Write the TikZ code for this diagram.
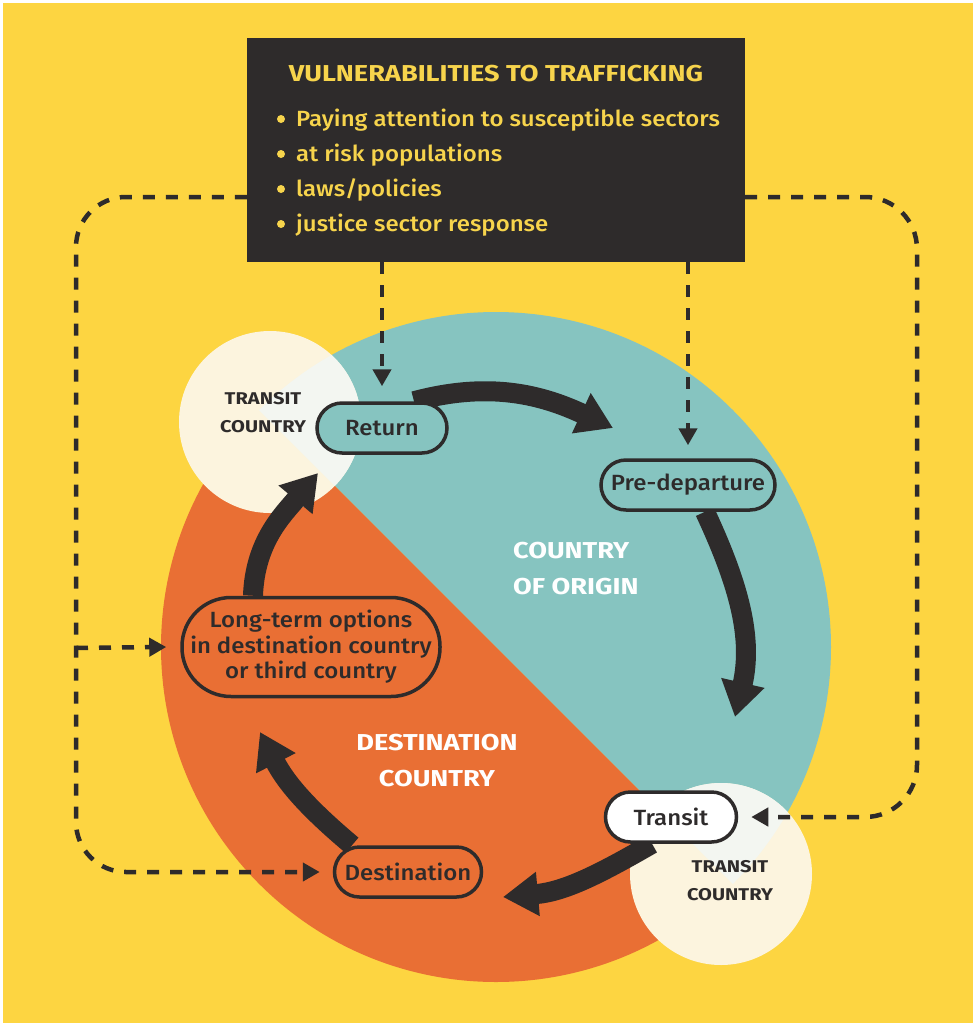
\documentclass[tikz,border=0pt]{standalone}
\usepackage{fontspec}
\setmainfont{Fira Sans}[BoldFeatures={FakeStretch=1.18}]
\newfontfamily\medfont{Fira Sans Medium}[FakeStretch=1.09]
\usepackage{tikz}
\usetikzlibrary{arrows.meta,shapes.misc,positioning}

\definecolor{sun}{HTML}{FDD541}
\definecolor{sea}{HTML}{86C4C0}
\definecolor{rust}{HTML}{E96F34}
\definecolor{ink}{HTML}{2E2B2B}
\definecolor{straw}{HTML}{F7D44C}
\definecolor{cream}{HTML}{FCF4DE}
\definecolor{frost}{HTML}{F3F6F1}

\pgfdeclarelayer{back}
\pgfdeclarelayer{links}
\pgfsetlayers{back,links,main}

\begin{document}
\begin{tikzpicture}
[x=1pt,y=1pt,every node/.style={inner sep=0pt},
 stage/.style={rounded rectangle,draw=ink,line width=3.5pt,minimum height=50pt,text=ink,font=\medfont\fontsize{22}{25.5}\selectfont},
 flow/.style={ink,line width=20pt,-{Triangle[length=35pt,width=42pt]}},
 hint/.style={ink,line width=4.5pt,dash pattern=on 12pt off 11pt,-{Triangle[length=17pt,width=18pt]}},
 region/.style={text=white,font=\bfseries\fontsize{23}{36}\selectfont},
 via/.style={text=ink,font=\bfseries\fontsize{17}{28}\selectfont,align=center},
 seahalf/.style={insert path={(496,-647) ++(-45:335) arc[start angle=-45,end angle=135,radius=335] -- cycle}}]
\useasboundingbox (0,0) rectangle (976,-1026);
\begin{pgfonlayer}{back}
\fill[white] (0,0) rectangle (976,-1026);
\fill[sun] (3,-3) rectangle (973,-1023);
\fill[sea,seahalf];
\fill[rust] (496,-647) ++(135:335) arc[start angle=135,end angle=315,radius=335] -- cycle;
\fill[cream] (270,-422) circle (91);
\fill[cream] (721,-874) circle (91);
\begin{scope}
\clip[seahalf];
\fill[frost] (270,-422) circle (91);
\fill[frost] (721,-874) circle (91);
\end{scope}
\end{pgfonlayer}

\node[fill=ink,minimum width=498pt,minimum height=224pt] (vul) at (496,-150) {};
\node[text=straw,font=\bfseries\fontsize{23}{26}\selectfont,anchor=base] (head) at (496,-81) {VULNERABILITIES TO TRAFFICKING};
\foreach \txt [count=\i] in {Paying attention to susceptible sectors,at risk populations,laws/policies,justice sector response}{
  \node[text=straw,font=\medfont\fontsize{22}{26}\selectfont,anchor=base west] (item\i) at (296,{-91-35*\i}) {\txt};
  \fill[straw] (281,{-84-35*\i}) circle (4);
}

\node[region,align=left,anchor=west] (origin) at (513,-569) {COUNTRY\\OF ORIGIN};
\node[region,align=center] (dest) at (437,-761) {DESTINATION\\COUNTRY};
\node[via] (via1) at (263,-413) {TRANSIT\\COUNTRY};
\node[via] (via2) at (730,-881) {TRANSIT\\COUNTRY};

\node[stage,fill=sea,minimum width=130pt] (ret) at (382,-428) {Return};
\node[stage,fill=sea,minimum width=174pt] (pre) at (688,-485) {Pre-departure};
\node[stage,fill=white,minimum width=131pt] (tra) at (671,-817) {Transit};
\node[stage,fill=rust,minimum width=147pt] (dst) at (408,-872) {Destination};
\node[stage,shape=rectangle,rounded corners=49pt,fill=rust,minimum width=258pt,minimum height=99pt,align=center] (lto) at (311,-647) {Long-term options\\in destination country\\or third country};

\coordinate (t1) at (613,-428);
\coordinate (t2) at (735,-717);
\coordinate (t3) at (503,-897);
\coordinate (t4) at (260,-732);
\coordinate (t5) at (318,-473);

\begin{pgfonlayer}{links}
\draw[flow] ([xshift=32pt]ret.north) to[out=15,in=155] (t1);
\draw[flow] ([xshift=17pt]pre.south) to[out=-65,in=77] (t2);
\draw[flow] ([xshift=-19pt]tra.south) to[out=-150,in=5] (t3);
\draw[flow] ([xshift=-56pt]dst.north) to[out=140,in=-63] (t4);
\draw[flow] ([xshift=-58pt]lto.north) to[out=88,in=-130] (t5);

\draw[hint,rounded corners=50pt] ([yshift=-47pt]vul.west) -- (76,-197) -- (76,-872) -- ([xshift=-13pt]dst.west);
\draw[hint] (76,-648) -- ([xshift=-14pt]lto.west);
\draw[hint,rounded corners=52pt] ([yshift=-47pt]vul.east) -- (917,-197) -- (917,-817) -- ([xshift=13pt]tra.east);
\draw[hint] (ret.north |- vul.south) -- ([yshift=15pt]ret.north);
\draw[hint] (pre.north |- vul.south) -- ([yshift=13pt]pre.north);
\end{pgfonlayer}
\end{tikzpicture}
\end{document}
